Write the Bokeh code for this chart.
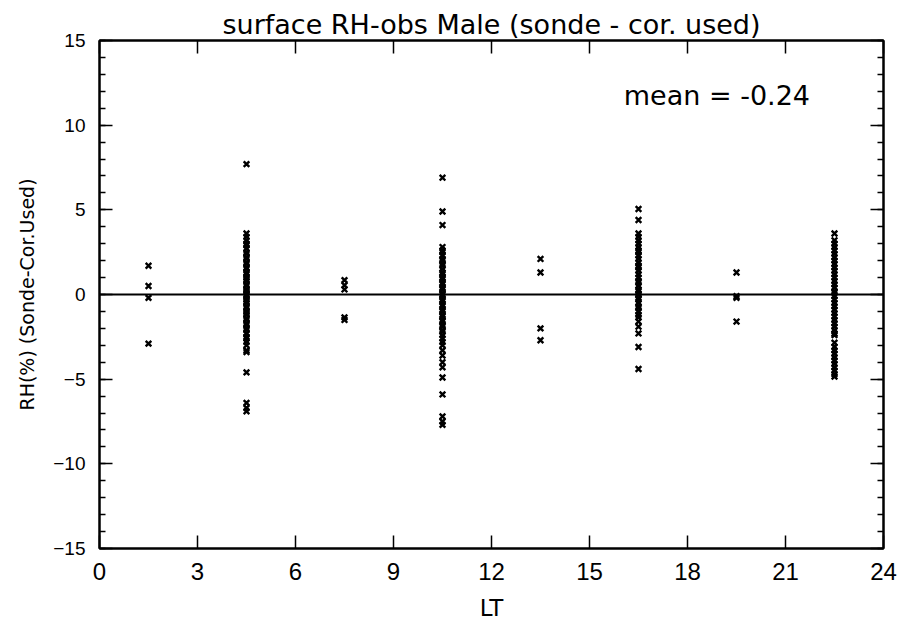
from bokeh.plotting import figure
from bokeh.models import (LinearAxis, FixedTicker, Span, Label, ColumnDataSource, Range1d)
from bokeh.embed import file_html
from bokeh.resources import INLINE

# ---- data ----
lt_hours = [1.5, 4.5, 7.5, 10.5, 13.5, 16.5, 19.5, 22.5]

rh_lt_01 = [1.7, 0.5, -0.2, -2.9]
rh_lt_04 = [7.7, 3.6, 3.4, 3.2, 3.0, 2.9, 2.7, 2.5, 2.4, 2.2, 2.1, 1.9, 1.8, 1.6, 1.5,
            1.3, 1.2, 1.0, 0.9, 0.8, 0.6, 0.5, 0.3, 0.2, 0.1, 0.0, -0.1, -0.3, -0.4,
            -0.5, -0.7, -0.8, -1.0, -1.1, -1.2, -1.4, -1.5, -1.7, -1.8, -2.0, -2.1,
            -2.3, -2.5, -2.6, -2.8, -3.0, -3.3, -3.4, -4.6, -6.4, -6.7, -6.9]
rh_lt_07 = [0.85, 0.55, 0.3, -1.35, -1.5]
rh_lt_10 = [6.9, 4.9, 4.1, 2.8, 2.6, 2.5, 2.3, 2.1, 2.0, 1.8, 1.7, 1.5, 1.3, 1.2, 1.0,
            0.9, 0.7, 0.6, 0.4, 0.3, 0.1, 0.0, -0.1, -0.3, -0.4, -0.6, -0.7, -0.9,
            -1.0, -1.2, -1.3, -1.5, -1.6, -1.8, -1.9, -2.1, -2.2, -2.4, -2.6, -2.8,
            -3.0, -3.3, -3.6, -4.0, -4.3, -4.9, -5.9, -7.2, -7.5, -7.7]
rh_lt_13 = [2.1, 1.3, -2.0, -2.7]
rh_lt_16 = [5.05, 4.4, 3.6, 3.4, 3.2, 3.0, 2.8, 2.6, 2.5, 2.3, 2.1, 1.9, 1.7, 1.6, 1.4,
            1.2, 1.0, 0.8, 0.7, 0.5, 0.3, 0.2, 0.0, -0.2, -0.3, -0.5, -0.7, -0.8,
            -1.0, -1.2, -1.35, -1.6, -1.9, -2.3, -3.1, -4.4]
rh_lt_19 = [1.3, -0.1, -0.2, -1.6]
rh_lt_22 = [3.6, 3.2, 3.0, 2.8, 2.6, 2.4, 2.2, 2.0, 1.8, 1.6, 1.4, 1.2, 1.0, 0.8, 0.6,
            0.4, 0.2, 0.1, -0.1, -0.3, -0.5, -0.7, -0.9, -1.1, -1.3, -1.5, -1.7,
            -1.9, -2.1, -2.3, -2.4, -2.85, -3.1, -3.3, -3.5, -3.7, -3.9, -4.1, -4.3,
            -4.5, -4.7, -4.85]

rh_groups = [rh_lt_01, rh_lt_04, rh_lt_07, rh_lt_10, rh_lt_13, rh_lt_16, rh_lt_19, rh_lt_22]

x_ticks = [0, 3, 6, 9, 12, 15, 18, 21, 24]
y_ticks = [-15, -10, -5, 0, 5, 10, 15]
y_minor = list(range(-15, 16))
mean_text = "mean = -0.24"
title_text = "surface RH-obs Male (sonde - cor. used)"

xs, ys = [], []
for h, vals in zip(lt_hours, rh_groups):
    xs.extend([h] * len(vals))
    ys.extend(vals)
src = ColumnDataSource(dict(x=xs, y=ys))

TEXT_FONT = "DejaVu Sans"
TICK_FONT = "Liberation Sans"

p = figure(width=898, height=627, output_backend="svg", toolbar_location=None,
           x_range=Range1d(0, 24), y_range=Range1d(-15, 15),
           min_border_left=99, min_border_right=15, min_border_top=40,
           min_border_bottom=79, x_axis_location=None, y_axis_location=None)

p.title.text = title_text
p.title.text_font = TEXT_FONT
p.title.text_font_size = "27px"
p.title.text_font_style = "normal"
p.title.text_color = "black"
p.title.align = "center"
p.title.standoff = 2

p.grid.visible = False
p.outline_line_color = "black"
p.outline_line_width = 2
p.background_fill_color = "white"
p.border_fill_color = "white"

def style_axis(ax, labels=True, minor=False, fs="19px"):
    ax.axis_line_color = "black"
    ax.axis_line_width = 2
    ax.major_tick_in = 13
    ax.major_tick_out = 0
    ax.major_tick_line_width = 1.5
    ax.major_tick_line_color = "black"
    if minor:
        ax.minor_tick_in = 6
        ax.minor_tick_out = 0
        ax.minor_tick_line_width = 1.5
        ax.minor_tick_line_color = "black"
    else:
        ax.minor_tick_line_color = None
    if labels:
        ax.major_label_text_font = TICK_FONT
        ax.major_label_text_font_size = fs
        ax.major_label_text_color = "black"
        ax.major_label_standoff = 14
    else:
        ax.major_label_text_color = None
        ax.major_label_standoff = 0

xb = LinearAxis(ticker=FixedTicker(ticks=x_ticks))
style_axis(xb, fs="24px")
xb.axis_label = "LT"
xb.axis_label_text_font = TEXT_FONT
xb.axis_label_text_font_size = "23px"
xb.axis_label_text_font_style = "normal"
xb.axis_label_text_color = "black"
xb.axis_label_standoff = 12
p.add_layout(xb, "below")

xt = LinearAxis(ticker=FixedTicker(ticks=x_ticks))
style_axis(xt, labels=False)
xt.major_label_overrides = {t: "" for t in x_ticks}
p.add_layout(xt, "above")

yl = LinearAxis(ticker=FixedTicker(ticks=y_ticks, minor_ticks=y_minor))
style_axis(yl, minor=True)
yl.axis_label = "RH(%) (Sonde-Cor.Used)"
yl.axis_label_text_font = TEXT_FONT
yl.axis_label_text_font_size = "19px"
yl.axis_label_text_font_style = "normal"
yl.axis_label_text_color = "black"
yl.axis_label_standoff = 12
p.add_layout(yl, "left")

yr = LinearAxis(ticker=FixedTicker(ticks=y_ticks, minor_ticks=y_minor))
style_axis(yr, labels=False, minor=True)
yr.major_label_overrides = {t: "" for t in y_ticks}
p.add_layout(yr, "right")

p.add_layout(Span(location=0, dimension="width", line_color="black", line_width=2))

p.scatter("x", "y", source=src, marker="x", size=8, line_color="black", line_width=2.4)

p.add_layout(Label(x=16.05, y=11.75, text=mean_text, text_font=TEXT_FONT,
                   text_font_size="27px", text_baseline="middle", text_color="black"))

open("out.html", "w").write(file_html(p, INLINE))
